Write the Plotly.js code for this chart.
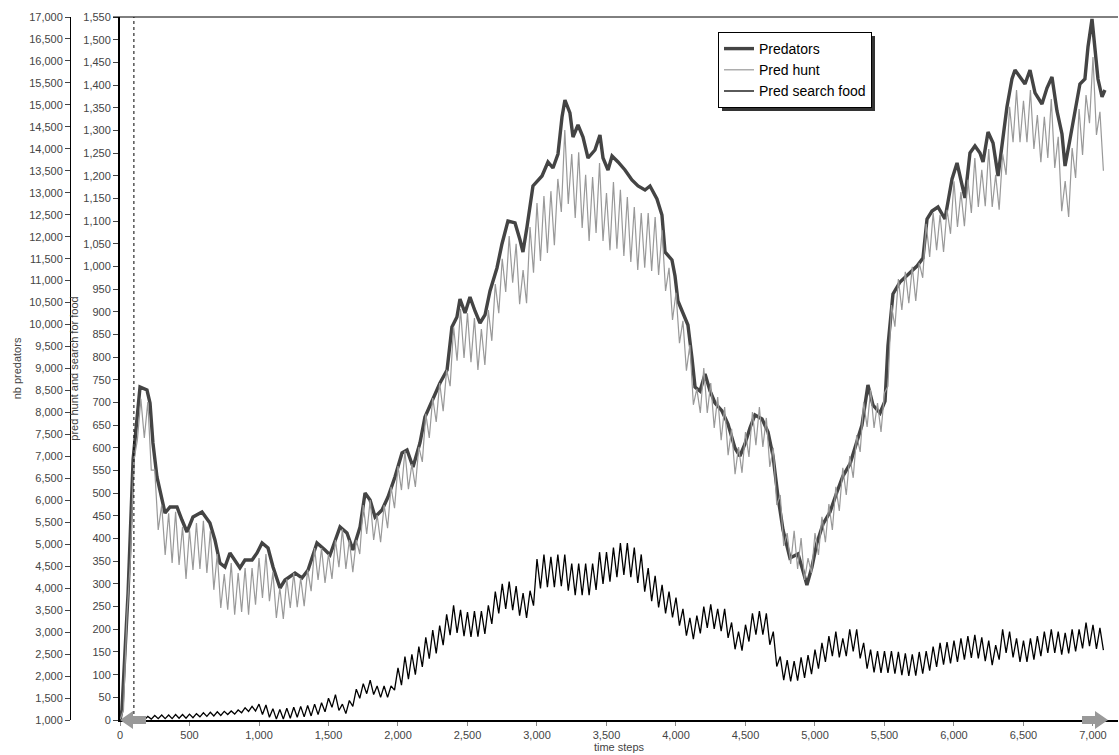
<!DOCTYPE html>
<html>
<head>
<meta charset="utf-8">
<script src="https://cdn.plot.ly/plotly-3.0.1.min.js"></script>
<style>html,body{margin:0;padding:0;background:#fff;}#chart{width:1119px;height:755px;}</style>
</head>
<body>
<div id="chart"></div>
<script>
// ---- data ----
const seriesNames = ["Predators", "Pred hunt", "Pred search food"];

const predTime = [0,14,58,94,144,194,216,237,266,302,324,360,410,446,482,525,590,647,683,719,755,791,827,863,899,950,986,1022,1065,1101,1151,1187,1259,1309,1353,1417,1475,1511,1583,1633,1676,1727,1763,1799,1835,1885,1928,1978,2029,2065,2108,2158,2194,2245,2302,2353,2388,2424,2446,2482,2518,2554,2590,2626,2662,2712,2748,2791,2842,2878,2899,2928,2971,3036,3079,3115,3151,3180,3201,3237,3259,3295,3331,3367,3417,3453,3475,3511,3540,3583,3633,3683,3727,3777,3813,3863,3899,3921,3971,3993,4014,4050,4086,4115,4137,4173,4209,4245,4281,4331,4374,4424,4460,4496,4532,4568,4619,4662,4698,4734,4770,4820,4878,4914,4942,4978,5014,5058,5108,5158,5201,5252,5288,5338,5381,5417,5468,5504,5525,5561,5612,5669,5734,5777,5806,5842,5885,5935,5986,6022,6058,6079,6115,6151,6187,6209,6245,6281,6317,6353,6381,6417,6439,6475,6511,6547,6583,6633,6669,6705,6741,6777,6799,6835,6871,6906,6942,6964,6993,7014,7036,7065,7086];

const predators = [1000,1228,3890,6918,8579,8511,8215,7305,6531,6007,5711,5848,5848,5552,5279,5620,5734,5484,5097,4573,4482,4801,4642,4460,4642,4642,4801,5029,4915,4482,4004,4186,4346,4232,4414,5029,4869,4755,5393,5256,4869,5393,6167,6007,5620,5780,6075,6531,7077,7145,6758,7305,7896,8283,8670,8966,9945,10172,10582,10263,10627,10309,10036,10218,10764,11288,11834,12357,12312,11925,11652,12221,13154,13381,13700,13564,13882,14724,15111,14815,14269,14542,14269,13791,13973,14315,13791,13518,13837,13700,13518,13290,13154,13063,13154,12858,12494,11652,11470,11105,10536,10263,9990,9239,8579,8488,8875,8488,8215,8033,7737,7191,7009,7282,7646,7942,7851,7555,7009,6075,5324,4687,4778,4391,4073,4482,5029,5461,5734,6189,6553,6827,7191,7714,8625,8169,7987,8260,9512,10696,10969,11151,11333,11515,12403,12585,12676,12403,13313,13677,13131,12881,13905,14064,13905,13700,14383,14133,13381,14224,14952,15589,15794,15635,15475,15794,15271,15020,15384,15635,14861,14337,13609,14224,14861,15475,15589,16318,16955,16318,15589,15180,15339];

// time steps where the noisy series touch the top of their band ...
const highTime = [0,50,100,150,200,250,300,350,400,450,500,550,600,650,700,750,800,850,900,950,1000,1050,1100,1150,1200,1250,1300,1350,1400,1450,1500,1550,1600,1650,1700,1750,1800,1850,1900,1950,2000,2050,2100,2150,2200,2250,2300,2350,2400,2450,2500,2550,2600,2650,2700,2750,2800,2850,2900,2950,3000,3050,3100,3150,3200,3250,3300,3350,3400,3450,3500,3550,3600,3650,3700,3750,3800,3850,3900,3950,4000,4050,4100,4150,4200,4250,4300,4350,4400,4450,4500,4550,4600,4650,4700,4750,4800,4850,4900,4950,5000,5050,5100,5150,5200,5250,5300,5350,5400,5450,5500,5550,5600,5650,5700,5750,5800,5850,5900,5950,6000,6050,6100,6150,6200,6250,6300,6350,6400,6450,6500,6550,6600,6650,6700,6750,6800,6850,6900,6950,7000,7050];
// ... and the bottom of their band
const lowTime = [25,75,125,175,225,275,325,375,425,475,525,575,625,675,725,775,825,875,925,975,1025,1075,1125,1175,1225,1275,1325,1375,1425,1475,1525,1575,1625,1675,1725,1775,1825,1875,1925,1975,2025,2075,2125,2175,2225,2275,2325,2375,2425,2475,2525,2575,2625,2675,2725,2775,2825,2875,2925,2975,3025,3075,3125,3175,3225,3275,3325,3375,3425,3475,3525,3575,3625,3675,3725,3775,3825,3875,3925,3975,4025,4075,4125,4175,4225,4275,4325,4375,4425,4475,4525,4575,4625,4675,4725,4775,4825,4875,4925,4975,5025,5075,5125,5175,5225,5275,5325,5375,5425,5475,5525,5575,5625,5675,5725,5775,5825,5875,5925,5975,6025,6075,6125,6175,6225,6275,6325,6375,6425,6475,6525,6575,6625,6675,6725,6775,6825,6875,6925,6975,7025,7075];

const huntHigh = [0,232,573,708,701,551,474,456,459,426,419,434,439,417,366,322,346,324,335,335,357,366,326,291,311,324,313,331,379,379,366,397,421,397,397,474,485,452,474,514,560,593,564,602,675,710,743,772,867,906,897,886,862,904,961,1017,1067,1050,992,1087,1140,1155,1166,1193,1301,1248,1252,1202,1197,1228,1162,1186,1169,1153,1131,1118,1118,1109,1080,997,942,880,827,730,776,743,712,690,642,602,635,679,690,666,600,496,412,417,401,357,412,448,476,514,556,582,628,701,728,699,721,915,972,988,999,1008,1094,1118,1114,1125,1188,1164,1191,1239,1213,1259,1202,1248,1352,1389,1365,1389,1334,1330,1369,1286,1188,1261,1347,1378,1462,1341];

const huntLow = [22,353,617,622,551,419,364,346,342,311,331,333,324,287,247,243,232,238,232,254,269,262,225,223,247,249,251,284,309,302,311,337,333,326,366,410,397,392,423,467,507,509,514,569,622,657,681,736,792,798,789,772,783,836,897,944,964,917,919,986,1012,1030,1047,1120,1138,1107,1085,1056,1074,1056,1036,1039,1023,1010,992,997,990,981,946,882,831,770,695,677,677,644,617,584,542,545,580,606,602,558,474,384,344,333,309,324,364,392,419,461,496,534,591,646,644,635,736,867,904,919,924,975,1021,1036,1032,1072,1087,1089,1118,1131,1133,1131,1125,1202,1274,1274,1274,1259,1230,1239,1217,1122,1109,1195,1246,1316,1290,1211];

const searchHigh = [0,0,0,4,8,10,11,11,12,12,13,14,16,17,18,19,20,22,27,30,35,33,25,23,26,28,30,32,35,38,48,56,35,43,68,80,88,75,75,75,115,140,145,162,182,198,208,233,253,243,238,240,240,253,283,300,305,295,280,285,355,365,360,365,365,345,345,345,345,370,370,380,390,390,380,365,335,318,298,283,270,245,225,230,250,255,245,245,215,195,210,235,240,235,195,140,132,130,138,143,155,170,185,195,180,200,200,170,155,152,152,152,150,147,145,150,152,162,170,172,175,180,185,188,182,175,165,200,195,180,175,180,185,195,200,195,192,200,200,215,210,203];

const searchLow = [0,0,0,0,2,3,3,3,4,4,5,7,8,9,10,12,13,16,19,20,12,6,2,2,4,6,7,9,12,18,28,21,14,30,48,58,56,50,50,66,77,90,100,117,135,147,165,187,192,185,183,184,190,212,235,245,242,230,225,252,290,293,293,295,285,275,275,275,287,300,305,315,320,315,302,283,262,248,235,226,208,186,178,191,203,201,196,181,156,153,173,188,188,166,118,88,85,87,93,101,113,128,141,138,141,151,136,113,105,104,104,102,99,97,98,102,109,117,122,125,128,133,137,136,130,121,133,148,138,128,128,133,141,148,148,144,147,151,158,163,157,154];

const xTitle = "time steps";
const y1Title = "nb predators";
const y2Title = "pred hunt and search for food";
const markerTime = 100;

// ---- build the noisy traces by alternating band top / band bottom readings ----
function interleave(tA, vA, tB, vB) {
  const x = [], y = [];
  for (let i = 0; i < tA.length; i++) {
    x.push(tA[i]); y.push(vA[i]);
    if (i < tB.length) { x.push(tB[i]); y.push(vB[i]); }
  }
  return {x, y};
}
const hunt = interleave(highTime, huntHigh, lowTime, huntLow);
const search = interleave(highTime, searchHigh, lowTime, searchLow);

// ---- chart ----
const font = "Liberation Sans, Arial, sans-serif";
const L = 5, W = 1113;            // margin left, paper width
const px = x => (x - L) / W;      // pixel -> paper x
const py = y => (720 - y) / 703;  // pixel -> paper y

const traces = [
  {x: predTime, y: predators, name: seriesNames[0], type: "scatter", mode: "lines",
   yaxis: "y", line: {color: "#444444", width: 3.4}},
  {x: hunt.x, y: hunt.y, name: seriesNames[1], type: "scatter", mode: "lines",
   yaxis: "y2", line: {color: "#999999", width: 1.2}},
  {x: search.x, y: search.y, name: seriesNames[2], type: "scatter", mode: "lines",
   yaxis: "y2", line: {color: "#000000", width: 1.3}}
];

function arrowPath(tip, dir) {
  const a = tip + dir * 13, b = tip + dir * 26;
  return `M ${px(tip)},${py(720)} L ${px(a)},${py(711)} L ${px(a)},${py(716)} L ${px(b)},${py(716)} ` +
         `L ${px(b)},${py(724)} L ${px(a)},${py(724)} L ${px(a)},${py(729)} Z`;
}

const tickFont = {family: font, size: 11, color: "#444"};

const layout = {
  width: 1119, height: 755,
  margin: {l: L, r: 1, t: 17, b: 35},
  paper_bgcolor: "#fff", plot_bgcolor: "#fff",
  showlegend: true,
  legend: {x: px(718), y: py(32), xanchor: "left", yanchor: "top",
           bgcolor: "#fff", bordercolor: "#000", borderwidth: 1,
           font: {family: font, size: 14, color: "#000"}, tracegroupgap: 0, itemwidth: 30},
  xaxis: {domain: [px(120), 1], range: [0, 7180], tick0: 0, dtick: 500, tickformat: ",d",
          showgrid: false, zeroline: false, showline: true, linecolor: "#000", linewidth: 2,
          ticks: "outside", ticklen: 4, tickcolor: "#888", tickfont: tickFont,
          title: {text: xTitle, font: {family: font, size: 11, color: "#444"}, standoff: 0}},
  yaxis: {anchor: "free", position: px(70), range: [1000, 17000], tick0: 1000, dtick: 500,
          tickformat: ",d", showgrid: false, zeroline: false, showline: true, linecolor: "#000",
          linewidth: 1, ticks: "outside", ticklen: 5, tickcolor: "#444", tickfont: tickFont,
          title: {text: y1Title, font: {family: font, size: 11, color: "#444"}, standoff: 4}},
  yaxis2: {overlaying: "y", anchor: "x", side: "left", range: [0, 1550], tick0: 0, dtick: 50,
           tickformat: ",d", showgrid: false, zeroline: false, showline: true, linecolor: "#000",
           linewidth: 2, ticks: "outside", ticklen: 5, tickcolor: "#444", tickfont: tickFont,
           title: {text: y2Title, font: {family: font, size: 11, color: "#444"}, standoff: 2}},
  shapes: [
    {type: "line", xref: "paper", yref: "paper", x0: px(113), x1: 1, y0: 1, y1: 1,
     line: {color: "#000", width: 1}},
    {type: "line", xref: "x", yref: "paper", x0: markerTime, x1: markerTime, y0: 0, y1: 1,
     line: {color: "#000", width: 1, dash: "dot"}},
    {type: "rect", xref: "paper", yref: "paper", x0: px(722), x1: px(875), y0: py(111), y1: py(36),
     fillcolor: "#333", line: {width: 0}, layer: "above"},
    {type: "path", xref: "paper", yref: "paper", path: arrowPath(120, 1),
     fillcolor: "#999", line: {width: 0}, layer: "above"},
    {type: "path", xref: "paper", yref: "paper", path: arrowPath(1108, -1),
     fillcolor: "#999", line: {width: 0}, layer: "above"}
  ]
};

Plotly.newPlot("chart", traces, layout, {displayModeBar: false, staticPlot: true});
</script>
</body>
</html>
